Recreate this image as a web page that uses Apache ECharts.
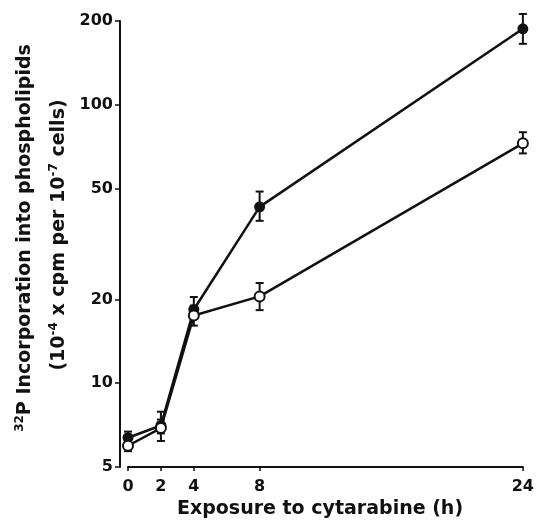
<!DOCTYPE html>
<html>
<head>
<meta charset="utf-8">
<script src="https://cdn.jsdelivr.net/npm/echarts@6/dist/echarts.min.js"></script>
<style>
html,body{margin:0;padding:0;background:#fff;}
#chart{width:537px;height:524px;}
</style>
</head>
<body>
<div id="chart"></div>
<script>
// ---- data ----
const hours = [0, 2, 4, 8, 24];
const filledMean = [6.37, 7.05, 18.4, 43.0, 187.5];
const filledLow  = [6.1, 6.6, 17.2, 38.3, 165.6];
const filledHigh = [6.7, 7.9, 20.4, 48.8, 212];
const openMean = [5.96, 6.9, 17.5, 20.5, 72.7];
const openLow  = [5.7, 6.2, 16.1, 18.3, 66.9];
const openHigh = [6.2, 7.4, 19.0, 22.9, 79.7];
const yTicks = [5, 10, 20, 50, 100, 200];
const xTicks = [0, 2, 4, 8, 24];

const FONT = 'DejaVu Sans';
const INK = '#111';

const chart = echarts.init(document.getElementById('chart'), null, {renderer: 'canvas'});

function pairs(xs, ys) { return xs.map((x, i) => [x, ys[i]]); }
function errData(xs, lo, hi) { return xs.map((x, i) => [x, lo[i], hi[i]]); }

function errRender(params, api) {
  const x = api.value(0);
  const p1 = api.coord([x, api.value(1)]);
  const p2 = api.coord([x, api.value(2)]);
  const cap = 4;
  const st = {stroke: INK, lineWidth: 2};
  return {
    type: 'group',
    children: [
      {type: 'line', shape: {x1: p1[0], y1: p1[1], x2: p2[0], y2: p2[1]}, style: st},
      {type: 'line', shape: {x1: p1[0] - cap, y1: p1[1], x2: p1[0] + cap, y2: p1[1]}, style: st},
      {type: 'line', shape: {x1: p2[0] - cap, y1: p2[1], x2: p2[0] + cap, y2: p2[1]}, style: st}
    ]
  };
}

const richStyles = {
  n: {fontFamily: FONT, fontSize: 19, fontWeight: 'bold', fill: INK, verticalAlign: 'bottom'},
  sup: {fontFamily: FONT, fontSize: 12, fontWeight: 'bold', fill: INK, verticalAlign: 'bottom', padding: [0, 0, 9, 0]}
};

const option = {
  backgroundColor: '#fff',
  animation: false,
  grid: {left: 128, right: 12, top: 21, bottom: 57},
  xAxis: {
    type: 'value', min: 0, max: 24,
    splitLine: {show: false},
    axisLine: {onZero: false, lineStyle: {color: INK, width: 2}},
    axisTick: {customValues: xTicks, length: 4, lineStyle: {color: INK, width: 1.5}},
    axisLabel: {customValues: xTicks, margin: 12, color: INK, fontFamily: FONT, fontSize: 16, fontWeight: 'bold'}
  },
  yAxis: {
    type: 'log', min: 5, max: 200, offset: 8,
    splitLine: {show: false},
    axisLine: {onZero: false, lineStyle: {color: INK, width: 2}},
    axisTick: {customValues: yTicks, length: 5, lineStyle: {color: INK, width: 1.5}},
    axisLabel: {customValues: yTicks, margin: 7, color: INK, fontFamily: FONT, fontSize: 16, fontWeight: 'bold'}
  },
  graphic: [
    {
      type: 'text', x: 320, y: 509,
      style: {text: 'Exposure to cytarabine (h)', fill: INK, font: 'bold 19px "DejaVu Sans"', align: 'center', verticalAlign: 'middle'}
    },
    {
      type: 'text', x: 24, y: 238, rotation: Math.PI / 2,
      style: {
        text: '{sup|32}{n|P Incorporation into phospholipids}',
        align: 'center', verticalAlign: 'middle', fill: INK,
        rich: richStyles
      }
    },
    {
      type: 'text', x: 58, y: 235, rotation: Math.PI / 2,
      style: {
        text: '{n|(10}{sup|-4}{n| x cpm per 10}{sup|-7}{n| cells)}',
        align: 'center', verticalAlign: 'middle', fill: INK,
        rich: richStyles
      }
    }
  ],
  series: [
    {
      type: 'custom', name: 'filledErr', z: 1,
      renderItem: errRender, data: errData(hours, filledLow, filledHigh)
    },
    {
      type: 'custom', name: 'openErr', z: 1,
      renderItem: errRender, data: errData(hours, openLow, openHigh)
    },
    {
      type: 'line', name: 'filled', z: 3,
      data: pairs(hours, filledMean),
      symbol: 'circle', symbolSize: 11, showAllSymbol: true,
      lineStyle: {color: INK, width: 2.5},
      itemStyle: {color: INK}
    },
    {
      type: 'line', name: 'open', z: 4,
      data: pairs(hours, openMean),
      symbol: 'circle', symbolSize: 10, showAllSymbol: true,
      lineStyle: {color: INK, width: 2.5},
      itemStyle: {color: '#fff', borderColor: INK, borderWidth: 2}
    }
  ]
};
chart.setOption(option);
</script>
</body>
</html>
